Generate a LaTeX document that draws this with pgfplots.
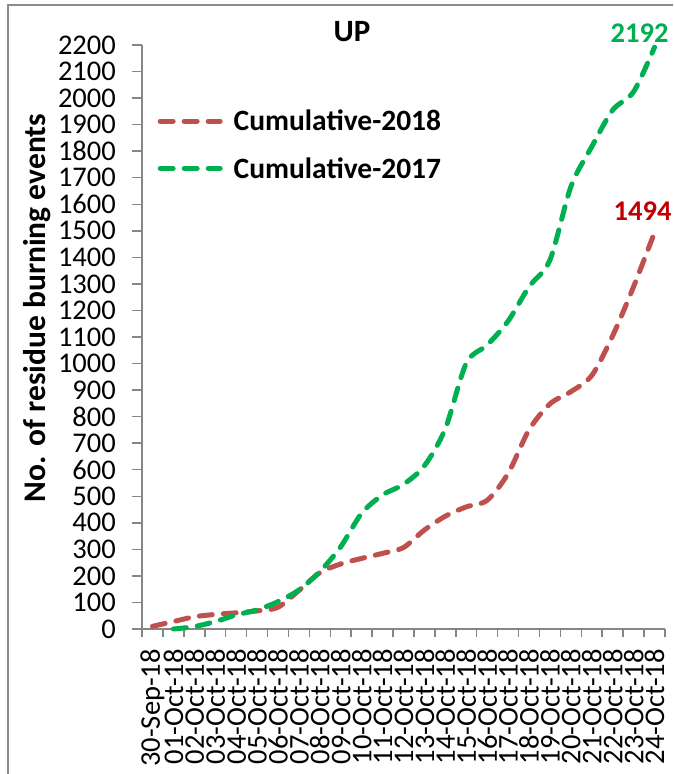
\documentclass[border=0pt]{standalone}
\usepackage{pgfplots}
\pgfplotsset{compat=1.18}
\usepackage{pgfplotstable}
\usepackage{fontspec}
\setmainfont{Carlito}
\definecolor{red18}{HTML}{C0504D}
\definecolor{green17}{HTML}{00B050}
\definecolor{lab18}{HTML}{C00000}
\definecolor{axgray}{HTML}{868686}
\definecolor{framegray}{HTML}{8C8C8C}
\newcommand\fs{\fontsize{28.5}{34}\selectfont}
\pgfplotstableread{
i v
0 10
1 28
2 46
3 55
4 61
5 68
6 82
7 145
8 212
9 245
10 266
11 285
12 307
13 373
14 425
15 460
16 485
17 586
18 750
19 848
20 894
21 955
22 1105
23 1290
24 1494
}\dataA
\pgfplotstableread{
i v
1 0
2 9
3 28
4 53
5 72
6 103
7 147
8 216
9 310
10 436
11 505
12 545
13 615
14 755
15 1001
16 1070
17 1160
18 1289
19 1390
20 1666
21 1817
22 1955
23 2024
24 2192
}\dataB
\begin{document}
\begin{tikzpicture}
\useasboundingbox (0pt,0pt) rectangle (673pt,774pt);
\draw[framegray, line width=2pt] (8pt,0pt) -- (8pt,769pt) -- (673pt,769pt);
\node[font=\fontsize{31}{36}\selectfont\bfseries, inner sep=0pt] at (352pt,742.5pt) {UP};
\begin{axis}[
 at={(142pt,145pt)}, anchor=south west,
 width=523pt, height=584pt, scale only axis,
 xmin=-0.5, xmax=24.5, ymin=0, ymax=2200,
 clip=false,
 axis x line*=bottom, axis y line*=left,
 axis line style={axgray, line width=1.5pt},
 tick align=outside,
 tick style={axgray, line width=1.5pt},
 major tick length=10pt, minor tick length=8pt,
 xtick={0,...,24},
 xticklabels={30-Sep-18,01-Oct-18,02-Oct-18,03-Oct-18,04-Oct-18,05-Oct-18,06-Oct-18,07-Oct-18,08-Oct-18,09-Oct-18,10-Oct-18,11-Oct-18,12-Oct-18,13-Oct-18,14-Oct-18,15-Oct-18,16-Oct-18,17-Oct-18,18-Oct-18,19-Oct-18,20-Oct-18,21-Oct-18,22-Oct-18,23-Oct-18,24-Oct-18},
 major x tick style={draw=none},
 minor xtick={-0.5,0.5,...,24.5},
 ytick={0,100,...,2200},
 /pgf/number format/assume math mode=true,
 yticklabel style={font=\fs, inner sep=0pt, anchor=east, /pgf/number format/1000 sep={}},
 yticklabel shift=16pt,
 xticklabel style={font=\fs, inner sep=0pt, rotate=90, anchor=east},
 xticklabel shift=10pt,
 ylabel={No. of residue burning events},
 ylabel style={font=\fontsize{31.5}{36}\selectfont\bfseries, at={(axis description cs:-0.2008,0.5497)}, anchor=center, inner sep=0pt},
 legend style={at={(axis description cs:0.0296,0.889)}, anchor=north west, draw=none, fill=none, inner sep=0pt, font=\fontsize{29.5}{34}\selectfont\bfseries, row sep=25pt, column sep=11pt, nodes={inner sep=0pt}},
 legend cell align=left,
 legend image code/.code={\draw[#1] (0pt,0pt) -- (60pt,0pt);},
]
\addplot[red18, line width=5pt, dash pattern=on 13pt off 11pt, line cap=round, smooth, tension=0.5] table[x=i,y=v] {\dataA};
\addlegendentry{Cumulative-2018}
\addplot[green17, line width=5pt, dash pattern=on 13pt off 11pt, line cap=round, smooth, tension=0.5] table[x=i,y=v] {\dataB};
\addlegendentry{Cumulative-2017}
\node[anchor=south, xshift=-15pt, yshift=4pt, inner sep=0pt, text=green17, font=\fs\bfseries] at (axis cs:24,2192) {2192};
\node[anchor=south, xshift=-12pt, yshift=12pt, inner sep=0pt, text=lab18, font=\fs\bfseries] at (axis cs:24,1494) {1494};
\end{axis}
\end{tikzpicture}
\end{document}
